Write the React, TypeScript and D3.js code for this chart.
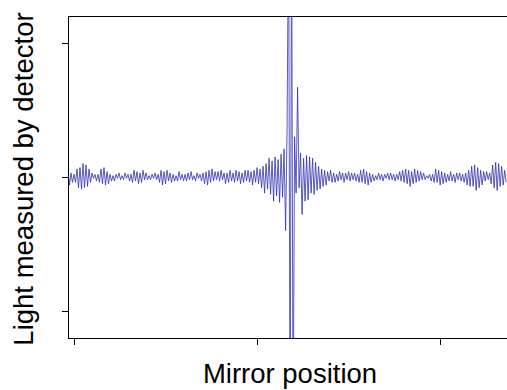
import * as d3 from 'd3'

const W = 507, H = 390
// plot box (right edge runs past the picture)
const M = { top: 16, left: 68, bottom: 338, right: 528 }

// detector signal, sampled uniformly along the mirror travel
const signal: number[] = [
  5, -6, 3, -4, 2, -4, 6, -8, 7, -9,
  10, -8, 9, -7, 6, -4, 3, -1, 2, -3,
  2, -4, 6, -5, 7, -6, 4, -5, 2, -3,
  1, -3, 2, -1, 3, -2, 1, -2, 3, -1,
  2, -3, 2, -4, 5, -3, 4, -5, 3, -4,
  5, -2, 3, -2, 1, -2, 2, -1, 3, -2,
  2, -4, 5, -6, 4, -5, 5, -3, 3, -4,
  2, -3, 1, -3, 4, -2, 2, -3, 2, -3,
  3, -2, 4, -2, 1, -3, 3, -1, 2, -3,
  3, -5, 4, -6, 5, -4, 6, -3, 4, -2,
  4, -3, 5, -2, 3, -5, 3, -4, 5, -3,
  3, -4, 5, -3, 4, -5, 3, -4, 5, -3,
  5, -4, 4, -6, 5, -4, 7, -5, 6, -8,
  8, -12, 10, -9, 14, -13, 12, -18, 15, -14,
  13, -19, 17, -15, 21, -40, 37, 200, -200, 200,
  -200, 30, -12, 67, -8, 18, -28, 14, -18, 16,
  -17, 15, -12, 14, -13, 11, -10, 8, -9, 6,
  -7, 5, -6, 4, -3, 5, -4, 3, -4, 2,
  -3, 4, -2, 3, -4, 3, -2, 4, -3, 3,
  -2, 3, -3, 2, -4, 5, -4, 6, -5, 4,
  -6, 3, -4, 2, -3, 1, -2, 3, -2, 2,
  -3, 2, -1, 3, -2, 3, -2, 2, -3, 2,
  -2, 4, -3, 5, -4, 6, -5, 5, -7, 4,
  -5, 6, -4, 5, -3, 4, -2, 3, -2, 1,
  -1, 2, -3, 2, -4, 6, -4, 5, -6, 4,
  -5, 3, -4, 2, -3, 4, -3, 2, -4, 3,
  -2, 3, -3, 2, -4, 3, -6, 5, -7, 8,
  -7, 9, -10, 7, -8, 5, -6, 4, -3, 4,
  -2, 3, -5, 9, -8, 11, -10, 10, -7, 8,
  -6, 5, -4,
]

const xTicks = [0, 1, 2]
const yTicks = [-100, 0, 100]

// mirror position of the first sample and the spacing between samples
const pos0 = -0.0328
const posStep = 0.0082

export default function App() {
  const x = d3.scaleLinear().domain([0, 2]).range([74, 440])
  const y = d3.scaleLinear().domain([-100, 100]).range([311, 43])

  const pts: [number, number][] = signal.map((v, i) => [pos0 + i * posStep, v])
  const line = d3.line<[number, number]>().x((d) => x(d[0])).y((d) => y(d[1]))

  const font = '"Liberation Sans", Arial, sans-serif'

  return (
    <svg width={W} height={H} style={{ position: 'absolute', left: 0, top: 0, background: '#fff' }}
      fontFamily={font}>
      <defs>
        <clipPath id="plot">
          <rect x={M.left} y={M.top} width={M.right - M.left} height={M.bottom - M.top} />
        </clipPath>
      </defs>

      <path d={line(pts) ?? ''} fill="none" stroke="#3030b0" strokeWidth={0.8}
        clipPath="url(#plot)" />

      {/* box */}
      <rect x={M.left + 0.5} y={M.top + 0.5} width={M.right - M.left} height={M.bottom - M.top}
        fill="none" stroke="#000" strokeWidth={1} />

      {/* y ticks, no labels */}
      {yTicks.map((t) => (
        <line key={t} x1={62} x2={M.left} y1={Math.round(y(t)) + 0.5} y2={Math.round(y(t)) + 0.5}
          stroke="#000" strokeWidth={1} />
      ))}
      {/* x ticks, no labels */}
      {xTicks.map((t) => (
        <line key={t} x1={Math.round(x(t)) + 0.5} x2={Math.round(x(t)) + 0.5} y1={M.bottom} y2={345}
          stroke="#000" strokeWidth={1} />
      ))}

      <text x={290} y={383} textAnchor="middle" fontSize={27.5} fill="#000">Mirror position</text>
      <text transform="translate(33,179) rotate(-90)" textAnchor="middle" fontSize={27.5} fill="#000">
        Light measured by detector
      </text>
    </svg>
  )
}
